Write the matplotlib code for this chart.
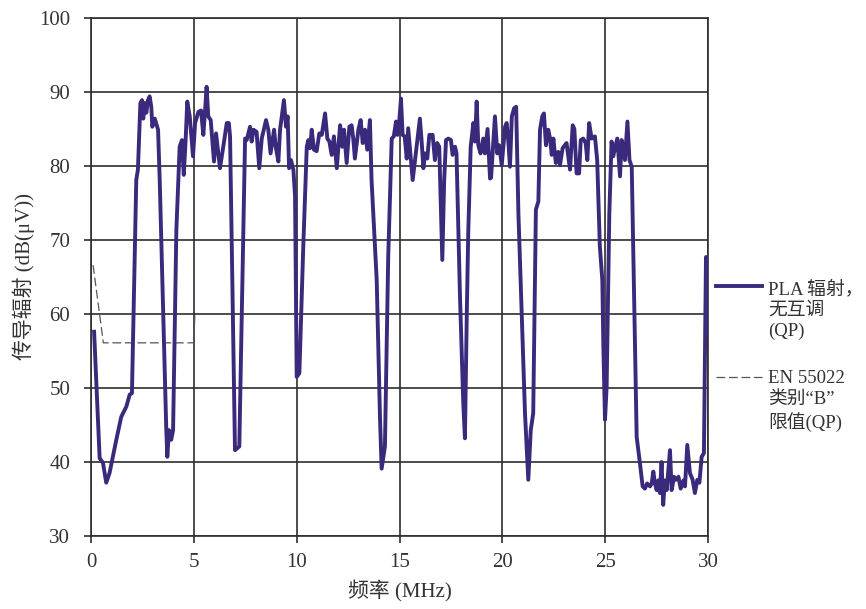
import matplotlib
matplotlib.use('Agg')
import matplotlib.pyplot as plt
from matplotlib.lines import Line2D

plt.rcParams['font.family'] = ['Liberation Serif', 'Noto Sans CJK SC', 'DejaVu Sans']

# PLA emission, quasi-peak
freq = [0.15, 0.42, 0.58, 0.74, 0.9, 1.23, 1.47, 1.72, 1.88, 1.99, 2.2, 2.28, 2.4, 2.48, 2.54,
        2.61, 2.69, 2.77, 2.85, 2.93, 2.98, 3.1, 3.26, 3.34, 3.66, 3.71, 3.79, 3.9, 3.99, 4.15,
        4.31, 4.42, 4.51, 4.6, 4.68, 4.8, 4.96,
        5.06, 5.22, 5.35, 5.46, 5.54, 5.62, 5.7, 5.82, 5.98, 6.08, 6.27, 6.43, 6.6, 6.7, 6.76,
        7.0, 7.21, 7.49, 7.57, 7.73, 7.81, 7.9, 8.05, 8.18, 8.3, 8.51, 8.62, 8.73, 8.9, 8.98,
        9.11, 9.19, 9.38, 9.48, 9.56, 9.63, 9.72, 9.84, 9.92, 10.0, 10.13,
        10.32, 10.49, 10.57, 10.65, 10.73, 10.84, 10.97, 11.1, 11.22, 11.38, 11.49, 11.59, 11.7,
        11.81, 11.95, 12.11, 12.22, 12.3, 12.43, 12.56, 12.67, 12.75, 12.83, 13.0, 13.11, 13.21,
        13.32, 13.43, 13.56, 13.64, 13.89, 14.05, 14.13, 14.29, 14.45, 14.62, 14.72, 14.83, 14.9,
        14.99, 15.07, 15.15, 15.25, 15.35, 15.42, 15.54, 15.64, 15.72, 15.83, 15.99, 16.07, 16.16,
        16.24, 16.35, 16.45, 16.61, 16.72, 16.83, 16.93, 17.08, 17.17, 17.26, 17.37, 17.5, 17.58,
        17.7, 17.77, 17.94, 18.1, 18.18, 18.27, 18.34, 18.46, 18.59, 18.67, 18.75, 18.83, 18.94,
        19.07, 19.15, 19.28, 19.4, 19.45, 19.64, 19.75, 19.85, 19.97, 20.13, 20.21, 20.29, 20.37,
        20.46, 20.57, 20.67, 20.78, 20.94, 21.1, 21.26, 21.38, 21.5, 21.63, 21.75, 21.83, 21.94,
        22.02, 22.12, 22.23, 22.32, 22.4, 22.48, 22.6, 22.72, 22.8, 22.93, 23.12, 23.29, 23.42,
        23.5, 23.61, 23.73, 23.81, 23.93, 24.05, 24.13, 24.22, 24.34, 24.5, 24.61, 24.74, 24.86,
        24.91, 24.99, 25.07, 25.2, 25.31, 25.39, 25.49, 25.59, 25.72, 25.8, 25.88, 25.96, 26.08,
        26.18, 26.29, 26.45, 26.53, 26.69, 26.82, 26.93, 27.04, 27.18, 27.26, 27.34, 27.42, 27.5,
        27.58, 27.66, 27.74, 27.82, 27.9, 27.99, 28.15, 28.23, 28.35, 28.44, 28.56, 28.67, 28.8,
        28.88, 28.99, 29.12, 29.25, 29.36, 29.48, 29.58, 29.69, 29.8, 29.9, 29.97]
pla_db = [57.6, 40.5, 39.9, 37.2, 38.5, 43, 46.1, 47.5, 49.1, 49.3, 78.1, 79.5, 88.5, 88.9, 86.4,
          88.5, 87.2, 88.9, 89.4, 88, 85.3, 86.4, 84.9, 78.1, 44.3, 40.7, 44.3, 43, 44.3, 71.4,
          82.6, 83.5, 78.8, 83.5, 88.7, 86.7, 81.3,
          85.8, 87.3, 87.5, 84.2, 87.3, 90.7, 86.7, 86.2, 80.6, 84.4, 79.7, 82.6, 85.8, 85.8, 84,
          41.6, 42.1, 83.7, 83.5, 85.3, 83.3, 84.9, 84.6, 79.7, 83.7, 86.2, 84.9, 81.7, 84.9, 82.6,
          80.6, 84.9, 88.9, 85.3, 86.7, 79.7, 80.8, 79.5, 75.9, 51.5, 52,
          69.1, 82.6, 83.5, 82.4, 84.9, 82.2, 82, 84.4, 84.2, 87.1, 83.7, 83.3, 81.5,
          84, 79.7, 85.5, 82.6, 84.9, 80.4, 85.3, 85.5, 83.7, 81, 84.9, 86.2, 83.1,
          84.9, 82.2, 86.2, 78.1, 64.6, 46, 39.1, 42.1, 67.7, 83.7, 84, 86, 84.2,
          86.2, 89.1, 84.2, 84, 81, 85.1, 81.3, 78.1, 80, 82.6, 86.4, 83.5, 79.7,
          81.7, 81, 84.2, 84.2, 80.8, 83.1, 82.6, 67.3, 78, 83.5, 83.7, 83.5, 81.5,
          82.6, 81.7, 62.3, 47.9, 43.2, 60, 70.9, 82.6, 85.8, 83.3, 88.7, 82.8, 81.7,
          83.7, 81.7, 85, 78.3, 78.4, 86.7, 81.7, 82.8, 80.1, 85.3, 85.8, 83.3, 79.9,
          86.7, 87.8, 88, 73.6, 60.1, 46.6, 37.6, 44.3, 46.6, 74.1, 75.2, 84.9, 86.7,
          87.1, 82.8, 84.9, 83.7, 81.5, 83.7, 80.4, 81.9, 80.1, 82.4, 83.1, 79.5, 85.5,
          85, 79, 79, 83.5, 83.7, 83.1, 80.8, 85.8, 83.7, 84, 80.8, 69.1, 64.6,
          55.6, 45.7, 50.2, 73.6, 83.3, 81.3, 82.6, 83.7, 78.6, 83.5, 82.6, 80.8, 86,
          80.8, 79.9, 55.6, 43.4, 39.8, 36.7, 36.4, 37.1, 36.7, 37.1, 38.7, 37.1, 36.2,
          37.5, 35.8, 40, 34.2, 37.5, 36.2, 41.6, 36.2, 38, 37.6, 38, 36.4, 37.5,
          36.7, 42.3, 38.5, 37.6, 35.8, 37.6, 37.2, 40.7, 41.2, 67.7, 56.9]

# EN 55022 class B QP limit (drawn only up to 5 MHz)
limit_freq = [0.1, 0.6, 5.0, 5.05]
limit_db = [66.6, 56.1, 56.1, 60.0]

x_ticks = [0, 5, 10, 15, 20, 25, 30]
y_ticks = [30, 40, 50, 60, 70, 80, 90, 100]

grid_col = '#2e2e2e'
line_col = '#3b2a7c'

fig = plt.figure(figsize=(8.66, 6.09), dpi=100)
ax = fig.add_axes([0.1051, 0.1199, 0.7125, 0.8506])

ax.plot(freq, pla_db, color=line_col, lw=2.8, solid_joinstyle='round', zorder=3)
ax.plot(limit_freq, limit_db, color='#555555', lw=0.9, ls=(0, (7, 3)), zorder=2)

ax.set_xlim(0, 30)
ax.set_ylim(30, 100)
ax.set_xticks(x_ticks)
ax.set_yticks(y_ticks)
ax.grid(True, color=grid_col, lw=1.2)
ax.set_axisbelow(True)
for s in ax.spines.values():
    s.set_color(grid_col)
    s.set_linewidth(1.2)
ax.tick_params(direction='out', length=5, width=1.2, color=grid_col,
               labelsize=15, labelcolor='#333333', pad=7)
ax.tick_params(axis='y', pad=10)

ax.set_xlabel('频率 (MHz)', fontsize=15, color='#333333', labelpad=6)
ax.set_ylabel('传导辐射 (dB(μV))', fontsize=15, color='#333333', labelpad=3)

# legend on the right, handles aligned with the first text line
fig.add_artist(Line2D([716 / 866, 762 / 866], [1 - 286 / 609, 1 - 286 / 609],
                      color=line_col, lw=2.8, transform=fig.transFigure))
fig.add_artist(Line2D([716 / 866, 762 / 866], [1 - 377 / 609, 1 - 377 / 609],
                      color='#555555', lw=0.9, ls=(0, (7, 3)), transform=fig.transFigure))
fig.text(768 / 866, 1 - 310 / 609, 'PLA 辐射，\n无互调\n(QP)', fontsize=13.5,
         color='#333333', va='center', ha='left', linespacing=1.3)
fig.text(768 / 866, 1 - 401 / 609, 'EN 55022\n类别“B”\n限值(QP)', fontsize=13.5,
         color='#333333', va='center', ha='left', linespacing=1.3)

fig.savefig('out.png', dpi=100)
